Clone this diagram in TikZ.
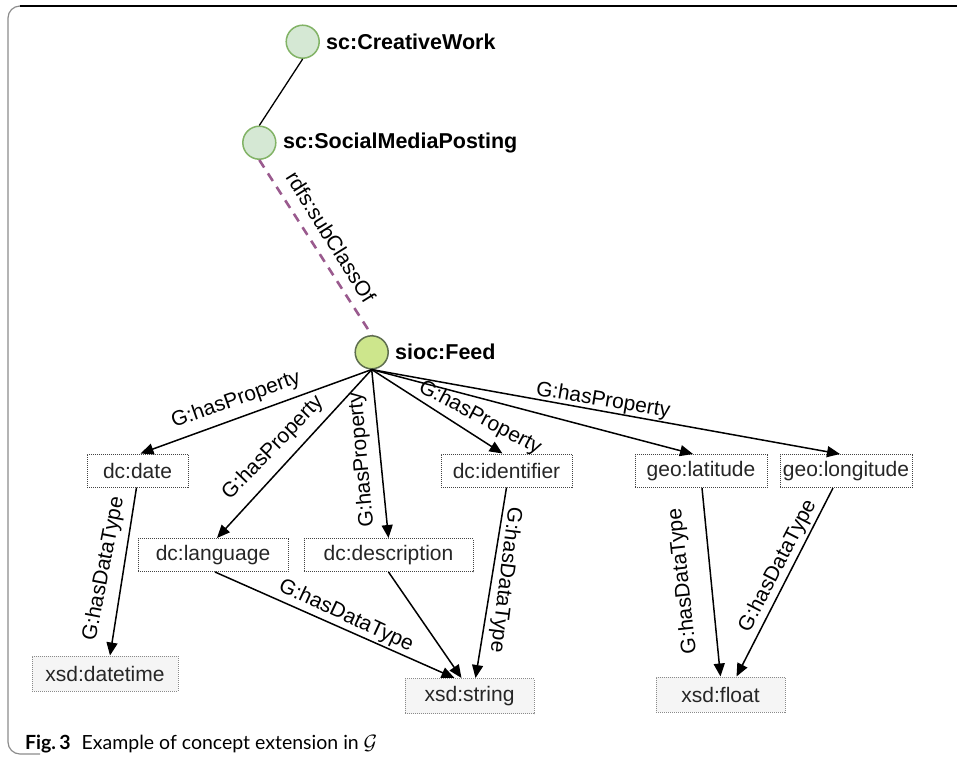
\documentclass[tikz,border=0pt]{standalone}
\usepackage{fontspec}
\setmainfont{Liberation Sans}
\newfontfamily\capfont{Lato}
\usetikzlibrary{arrows.meta}

\definecolor{clsfill}{HTML}{D5E8D4}
\definecolor{clsline}{HTML}{82B366}
\definecolor{feedfill}{HTML}{CDE68C}
\definecolor{feedline}{HTML}{5E6E4E}
\definecolor{subcls}{HTML}{9A5A8E}
\definecolor{boxline}{HTML}{444444}
\definecolor{typefill}{HTML}{F5F5F5}
\definecolor{typeline}{HTML}{8A8A8A}
\definecolor{frameline}{HTML}{8C8C8C}

\begin{document}
\begin{tikzpicture}[x=1pt,y=-1pt,
  txt/.style={font=\fontsize{21}{25}\selectfont},
  cls/.style={circle, draw=clsline, fill=clsfill, line width=1.5pt, minimum size=33pt, inner sep=0pt},
  feedcls/.style={cls, draw=feedline, fill=feedfill},
  clslbl/.style={anchor=west, inner sep=0pt, font=\fontsize{21.5}{25}\selectfont\bfseries},
  prop/.style={txt, draw=boxline, densely dotted, line width=1pt, fill=white, minimum height=33pt, inner sep=0pt, text=black!85},
  dtype/.style={prop, draw=typeline, fill=typefill, minimum height=35pt},
  rel/.style={draw=black, line width=1.5pt, -{Triangle[length=13pt,width=11pt]}},
  elbl/.style={txt, inner sep=0pt}
]
\useasboundingbox (0,0) rectangle (957,756);

% page frame
\draw[frameline, line width=1.2pt, rounded corners=12pt] (957,6) -- (8,6) -- (8,754) -- (40,754);
\draw[black, line width=1.6pt] (20,6) -- (957,6);

% classes
\node[cls] (cw) at (302.7,41.7) {};
\node[clslbl] (cwl) at (326,42) {sc:CreativeWork};
\node[cls] (smp) at (259.3,142.7) {};
\node[clslbl] (smpl) at (283,143) {sc:SocialMediaPosting};
\node[feedcls] (feed) at (371.7,352.3) {};
\node[clslbl] (feedl) at (395,352) {sioc:Feed};

\draw[black, line width=1.3pt] (cw.south) -- (smp.north);
\draw[subcls, line width=2.6pt, dash pattern=on 9pt off 7pt] (smp.south) -- (feed.north);
\node[elbl, rotate=-58] (sublbl) at (331,237) {rdfs:subClassOf};

% properties
\node[prop, minimum width=101pt] (date) at (137.5,470.5) {dc:date};
\node[prop, minimum width=150pt] (lang) at (213,555) {dc:language};
\node[prop, minimum width=169pt] (desc) at (388.5,555) {dc:description};
\node[prop, minimum width=131pt] (ident) at (506.5,470.5) {dc:identifier};
\node[prop, minimum width=132pt] (lat) at (701,471) {geo:latitude};
\node[prop, minimum width=132pt] (lon) at (846,471) {geo:longitude};

% data types
\node[dtype, minimum width=146pt] (dtime) at (105,673.5) {xsd:datetime};
\node[dtype, minimum width=129pt] (str) at (469.5,696) {xsd:string};
\node[dtype, minimum width=129pt] (flt) at (720.5,694.5) {xsd:float};

% hasProperty links
\draw[rel] (feed.south) -- ([xshift=3pt]date.north);
\draw[rel] (feed.south) -- ([xshift=4pt]lang.north);
\draw[rel] (feed.south) -- (desc.north);
\draw[rel] (feed.south) -- ([xshift=-4pt]ident.north);
\draw[rel] (feed.south) -- ([xshift=-8pt]lat.north);
\draw[rel] (feed.south) -- ([xshift=-6pt]lon.north);

\node[elbl, rotate=19.5] (hp1) at (236,400) {G:hasProperty};
\node[elbl, rotate=46] (hp2) at (273,448) {G:hasProperty};
\node[elbl, rotate=95] (hp3) at (362,460) {G:hasProperty};
\node[elbl, rotate=-28] (hp4) at (480,418) {G:hasProperty};
\node[elbl, rotate=-9.5] (hp5) at (603,401) {G:hasProperty};

% hasDataType links
\draw[rel] ([xshift=-1pt]date.south) -- ([xshift=5pt]dtime.north);
\draw[rel] ([xshift=2pt]lang.south) -- ([xshift=-15pt]str.north);
\draw[rel] (desc.south) -- ([xshift=-8pt]str.north);
\draw[rel] (ident.south) -- ([xshift=6pt]str.north);
\draw[rel] ([xshift=1pt]lat.south) -- (flt.north);
\draw[rel] ([xshift=-13pt]lon.south) -- ([xshift=16pt]flt.north);

\node[elbl, rotate=79] (dt1) at (104,569) {G:hasDataType};
\node[elbl, rotate=-25] (dt2) at (346,616) {G:hasDataType};
\node[elbl, rotate=-97] (dt3) at (505,580) {G:hasDataType};
\node[elbl, rotate=96] (dt4) at (683,581) {G:hasDataType};
\node[elbl, rotate=62.7] (dt5) at (778,566) {G:hasDataType};

% caption
\node[anchor=base west, inner sep=0pt, font=\capfont\fontsize{19.5}{23}\selectfont] (cap) at (25,749)
  {\textbf{Fig.\,3}\hspace{11pt}Example of concept extension in $\mathcal{G}$};
\end{tikzpicture}
\end{document}
